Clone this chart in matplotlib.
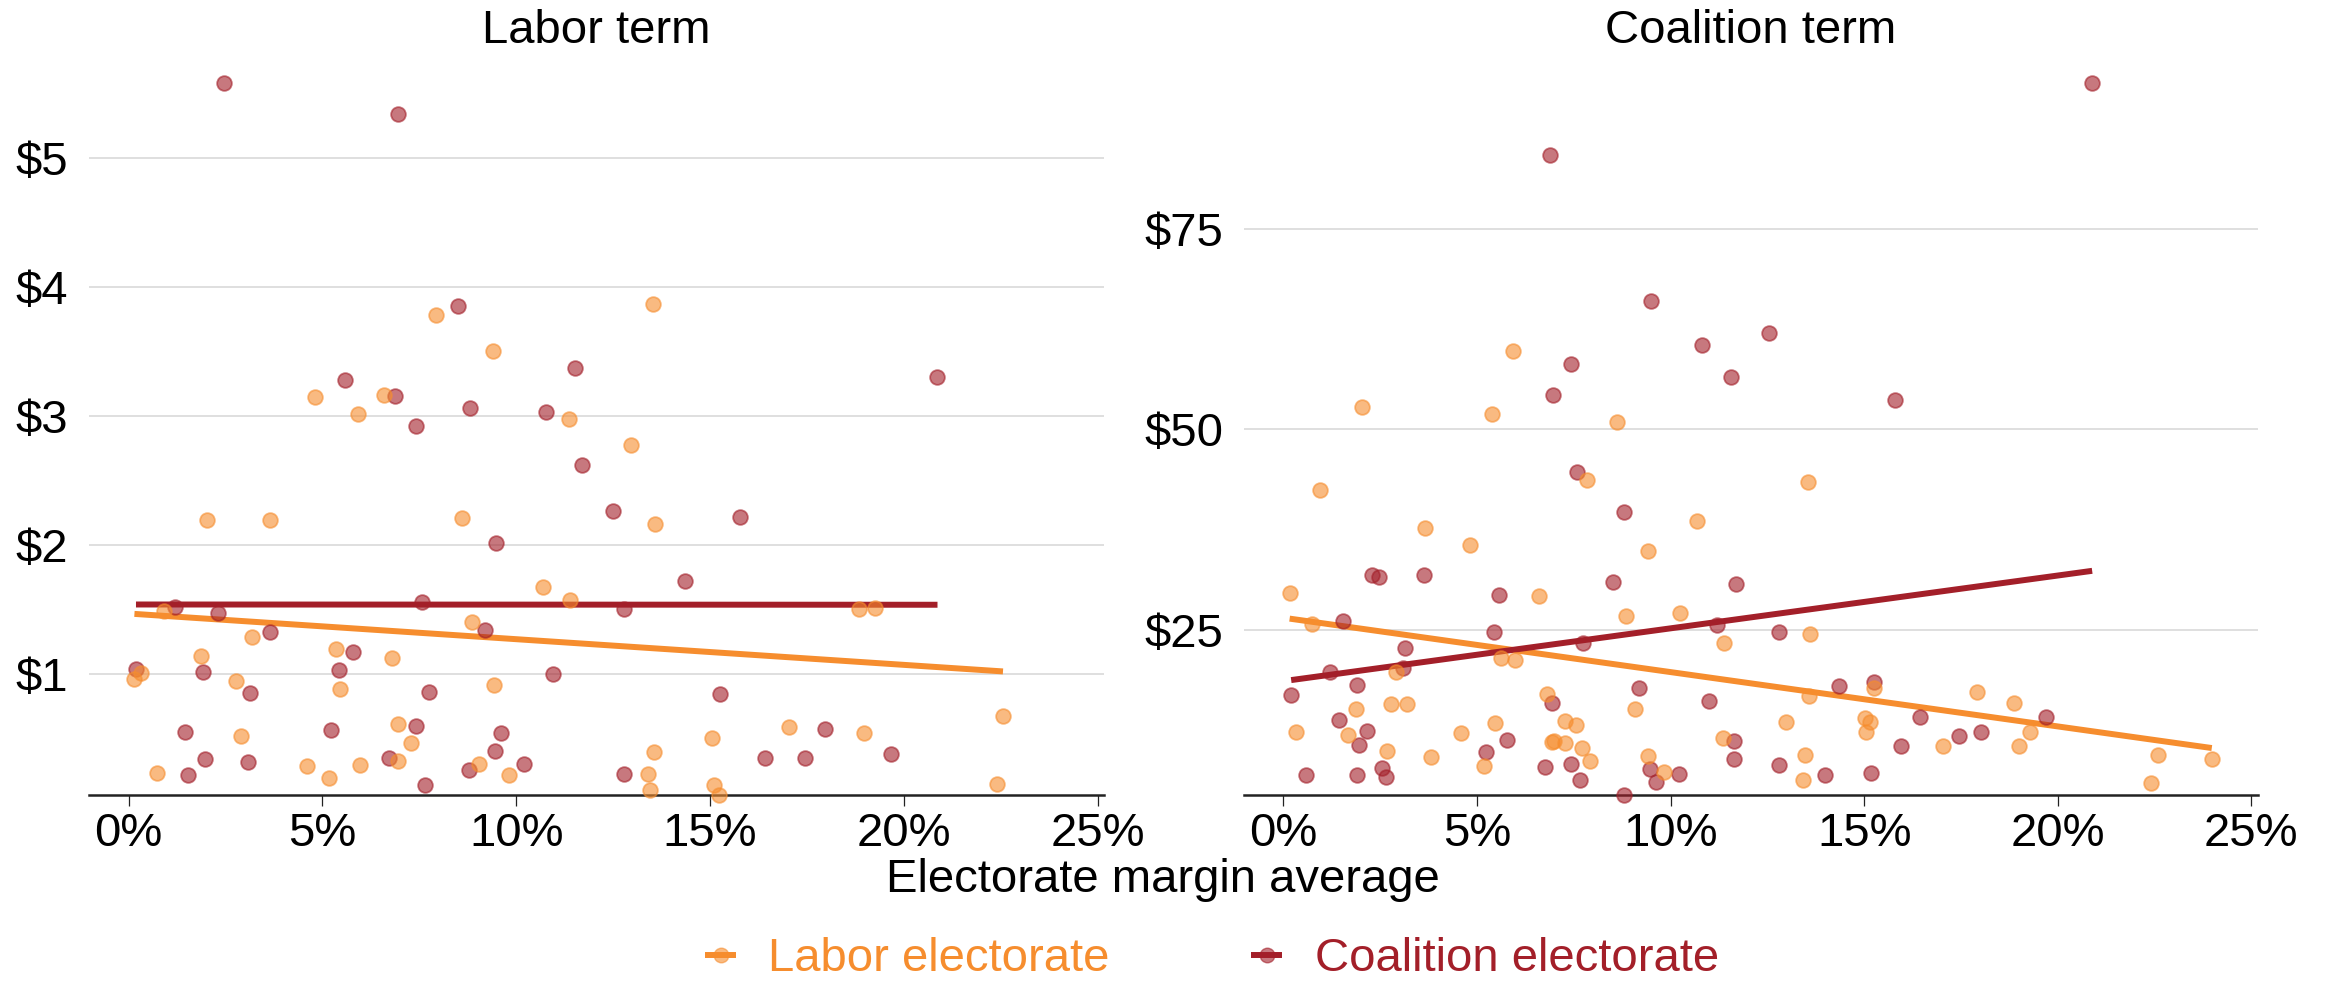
import matplotlib
matplotlib.use("Agg")
import matplotlib.pyplot as plt
from matplotlib.lines import Line2D
from matplotlib.legend_handler import HandlerTuple
import numpy as np

plt.rcParams['font.family'] = ['Liberation Sans', 'DejaVu Sans']

# electorate margin average (%) and spend per elector ($), Labor term
labor_term_labor_x = [7.92, 9.39, 4.80, 6.59, 5.92, 11.35, 13.53, 2.02, 3.65, 8.60, 10.68, 11.38,
                      0.90, 8.86, 3.18, 5.36, 6.79, 1.86, 0.31, 0.15, 2.78, 5.45, 9.42, 2.90,
                      6.96, 7.28, 0.73, 4.59, 5.17, 5.97, 6.95, 9.05, 9.81, 12.96, 13.58, 18.84,
                      19.26, 22.56, 17.03, 18.97, 15.04, 13.56, 13.40, 13.45, 15.11, 15.23, 22.40]
labor_term_labor_y = [3.785, 3.50, 3.146, 3.16, 3.01, 2.976, 3.87, 2.19, 2.195, 2.21, 1.67, 1.574,
                      1.49, 1.40, 1.285, 1.19, 1.12, 1.14, 1.005, 0.96, 0.94, 0.88, 0.91, 0.52,
                      0.607, 0.462, 0.23, 0.284, 0.193, 0.294, 0.32, 0.302, 0.216, 2.77, 2.16, 1.50,
                      1.51, 0.67, 0.59, 0.54, 0.50, 0.39, 0.224, 0.10, 0.136, 0.06, 0.144]
labor_term_coal_x = [2.46, 6.95, 8.50, 11.53, 5.58, 6.87, 7.42, 8.80, 10.78, 20.87, 11.69, 9.49,
                     1.19, 2.30, 7.57, 9.19, 3.64, 5.78, 0.19, 1.91, 5.43, 3.12, 7.74, 10.96,
                     1.45, 5.21, 7.42, 9.62, 9.45, 1.96, 3.08, 1.54, 6.72, 7.64, 8.79, 10.21,
                     12.51, 14.36, 12.78, 15.25, 17.98, 19.66, 16.43, 17.44, 12.79, 15.78]
labor_term_coal_y = [5.58, 5.34, 3.85, 3.37, 3.28, 3.155, 2.92, 3.06, 3.03, 3.30, 2.62, 2.01,
                     1.52, 1.47, 1.56, 1.34, 1.32, 1.17, 1.04, 1.01, 1.03, 0.853, 0.86, 1.00,
                     0.545, 0.566, 0.597, 0.54, 0.40, 0.338, 0.312, 0.216, 0.348, 0.139, 0.25, 0.30,
                     2.26, 1.72, 1.504, 0.84, 0.571, 0.38, 0.346, 0.346, 0.224, 2.215]

# Coalition term
coal_term_labor_x = [5.94, 2.03, 5.38, 8.61, 7.83, 0.95, 10.69, 3.66, 4.81, 9.41, 0.16, 6.59,
                     8.86, 10.24, 0.74, 11.39, 2.92, 5.63, 5.99, 6.81, 9.07, 1.87, 2.79, 3.19,
                     7.28, 7.57, 5.46, 0.32, 1.68, 4.59, 6.95, 7.00, 7.27, 11.35, 2.67, 7.72,
                     3.81, 9.43, 7.93, 5.18, 9.82, 13.54, 13.59, 15.25, 13.57, 17.92, 18.87, 12.98,
                     15.01, 15.15, 15.05, 19.28, 17.04, 18.99, 13.47, 22.58, 23.98, 13.41, 22.42]
coal_term_labor_y = [59.78, 52.74, 51.96, 50.87, 43.72, 42.47, 38.52, 37.73, 35.57, 34.82, 29.58, 29.24,
                     26.66, 27.04, 25.75, 23.38, 19.72, 21.47, 21.26, 17.01, 15.05, 15.05, 15.72, 15.72,
                     13.56, 13.06, 13.31, 12.27, 11.86, 12.06, 11.02, 11.05, 10.81, 11.44, 9.90, 10.19,
                     9.07, 9.28, 8.65, 7.94, 7.19, 43.39, 24.46, 17.68, 16.68, 17.18, 15.85, 13.52,
                     13.98, 13.52, 12.27, 12.19, 10.52, 10.44, 9.40, 9.31, 8.90, 6.28, 5.91]
coal_term_coal_x = [6.89, 9.50, 7.43, 10.80, 11.55, 6.96, 20.89, 12.53, 15.79, 7.58, 8.81, 2.30,
                    2.46, 3.64, 8.52, 11.70, 5.58, 1.55, 5.45, 11.20, 3.13, 7.75, 1.21, 3.10,
                    0.20, 1.91, 6.93, 9.19, 10.99, 1.44, 2.15, 5.78, 11.63, 1.96, 5.22, 11.63,
                    6.75, 7.44, 2.55, 2.66, 0.59, 1.90, 7.66, 9.46, 9.63, 10.23, 8.81, 12.79,
                    14.36, 15.25, 19.69, 16.45, 17.45, 18.01, 15.95, 12.80, 14.00, 15.19]
coal_term_coal_y = [84.28, 66.06, 58.20, 60.48, 56.57, 54.24, 93.23, 62.07, 53.70, 44.68, 39.69, 31.78,
                    31.58, 31.78, 30.90, 30.70, 29.28, 26.12, 24.71, 25.54, 22.67, 23.34, 19.67, 20.22,
                    16.89, 18.05, 15.89, 17.68, 16.10, 13.77, 12.36, 11.27, 11.13, 10.56, 9.69, 8.92,
                    7.82, 8.24, 7.78, 6.57, 6.86, 6.82, 6.19, 7.65, 6.03, 7.03, 4.37, 24.75,
                    18.01, 18.51, 14.06, 14.11, 11.77, 12.23, 10.48, 8.07, 6.90, 7.15]

# linear fits (intercept, slope)
labor_term_labor_fit = (1.467, -0.0199)
labor_term_coal_fit = (1.537, -0.0001)
coal_term_labor_fit = (26.49, -0.678)
coal_term_coal_fit = (18.58, 0.659)

titles = ['Labor term', 'Coalition term']
x_ticks = [0, 5, 10, 15, 20, 25]
x_tick_labels = ['0%', '5%', '10%', '15%', '20%', '25%']
y_ticks = [[1, 2, 3, 4, 5], [25, 50, 75]]

labor_color = '#F68D2E'
coal_color = '#A31F29'
fs = 34

fig = plt.figure(figsize=(23.26, 9.81), dpi=100)
ax1 = fig.add_axes([0.0383, 0.1896, 0.4364, 0.7258])
ax2 = fig.add_axes([0.5348, 0.1896, 0.4359, 0.7258])

panels = [
    (ax1, labor_term_labor_x, labor_term_labor_y, labor_term_coal_x, labor_term_coal_y,
     labor_term_labor_fit, labor_term_coal_fit),
    (ax2, coal_term_labor_x, coal_term_labor_y, coal_term_coal_x, coal_term_coal_y,
     coal_term_labor_fit, coal_term_coal_fit),
]

for i, (ax, lx, ly, cx, cy, lfit, cfit) in enumerate(panels):
    # trend lines over each series' x range
    for xs, fit, col in [(lx, lfit, labor_color), (cx, cfit, coal_color)]:
        xr = np.array([min(xs), max(xs)])
        ax.plot(xr, fit[0] + fit[1] * xr, color=col, lw=4.3, solid_capstyle='butt', zorder=2)

    ax.scatter(cx, cy, s=112, color=coal_color, alpha=0.6, linewidths=1.3, zorder=3, clip_on=False)
    ax.scatter(lx, ly, s=112, color=labor_color, alpha=0.6, linewidths=1.3, zorder=3, clip_on=False)

    ax.set_xlim(-1.02, 25.17)
    ax.set_ylim(min(ly + cy), max(ly + cy))
    ax.set_xticks(x_ticks)
    ax.set_xticklabels(x_tick_labels)
    ax.set_yticks(y_ticks[i])
    ax.set_yticklabels(['$%d' % v for v in y_ticks[i]])
    ax.tick_params(axis='x', length=8, width=0.9, color='#222222', pad=4, labelsize=fs)
    ax.tick_params(axis='y', length=0, pad=15, labelsize=fs)

    ax.yaxis.grid(True, color='#d6d6d6', lw=1.1)
    ax.set_axisbelow(True)
    for side in ['left', 'right', 'top']:
        ax.spines[side].set_visible(False)
    ax.spines['bottom'].set_color('#222222')
    ax.spines['bottom'].set_linewidth(1.8)

    ax.set_title(titles[i], fontsize=fs, pad=29)

fig.text(0.5, 0.103, 'Electorate margin average', ha='center', va='center', fontsize=fs)

# legend keys: faded dot under a short thick line
handles = []
for col in [labor_color, coal_color]:
    dot = Line2D([], [], ls='none', marker='o', markersize=10.5, color=col, alpha=0.6)
    bar = Line2D([], [], color=col, lw=4.3, solid_capstyle='butt')
    handles.append((dot, bar))
leg = fig.legend(handles, ['Labor electorate', 'Coalition electorate'], loc='center',
                 bbox_to_anchor=(0.521, 0.022), ncol=2, frameon=False, fontsize=fs,
                 handlelength=0.66, handletextpad=0.68, columnspacing=3.0, borderpad=0.1,
                 handler_map={tuple: HandlerTuple(ndivide=1, pad=0)})
for txt, col in zip(leg.get_texts(), [labor_color, coal_color]):
    txt.set_color(col)

plt.savefig('out.png', dpi=100)
plt.close()
